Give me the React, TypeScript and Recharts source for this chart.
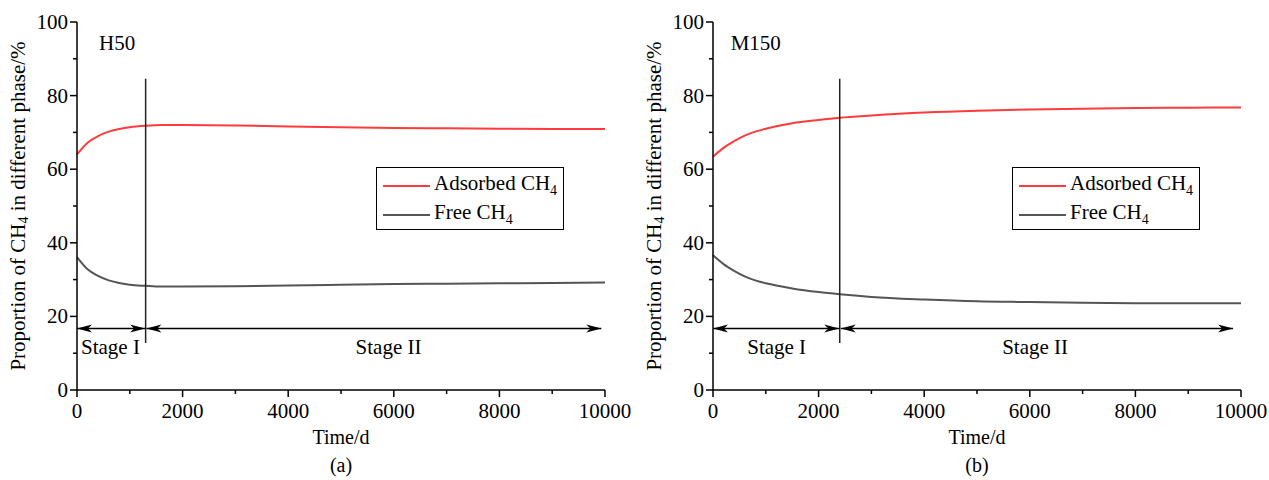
import React from "react";
import {
  LineChart,
  Line,
  XAxis,
  YAxis,
  ReferenceLine,
  ReferenceDot,
  Legend,
} from "recharts";

const FONT = "'Liberation Serif', 'Times New Roman', serif";

// time axis (days)
const timeH50 = [0, 200, 400, 600, 800, 1000, 1300, 1600, 2000, 3000, 4000, 5000, 6000, 7000, 8000, 9000, 10000];
const adsorbedH50 = [64.0, 67.2, 69.0, 70.2, 70.9, 71.4, 71.8, 72.0, 72.0, 71.9, 71.6, 71.4, 71.2, 71.1, 71.0, 70.9, 70.9];
const freeH50 = [36.1, 32.8, 31.0, 29.8, 29.1, 28.6, 28.3, 28.1, 28.1, 28.2, 28.4, 28.6, 28.8, 28.9, 29.0, 29.1, 29.2];

const timeM150 = [0, 200, 400, 600, 800, 1000, 1500, 2000, 2400, 3000, 4000, 5000, 6000, 7000, 8000, 9000, 10000];
const adsorbedM150 = [63.4, 65.8, 67.6, 69.1, 70.2, 71.0, 72.5, 73.4, 74.0, 74.6, 75.4, 75.9, 76.2, 76.4, 76.6, 76.7, 76.8];
const freeM150 = [36.6, 34.2, 32.4, 30.9, 29.8, 29.0, 27.6, 26.6, 26.0, 25.3, 24.6, 24.1, 23.9, 23.7, 23.6, 23.6, 23.6];

const xTicks = [0, 1000, 2000, 3000, 4000, 5000, 6000, 7000, 8000, 9000, 10000];
const yTicks = [0, 10, 20, 30, 40, 50, 60, 70, 80, 90, 100];

// stage boundary and arrow spans
const boundaryH50 = 1300;
const boundaryM150 = 2400;
const arrowsH50 = [[0, 1290], [1315, 9930]];
const arrowsM150 = [[0, 2390], [2420, 9850]];
const stageLabelsH50 = [{ t: 634, text: "Stage I" }, { t: 5900, text: "Stage II" }];
const stageLabelsM150 = [{ t: 1206, text: "Stage I" }, { t: 6100, text: "Stage II" }];

const XTick = (p: any) => {
  const { x, y, payload } = p;
  const major = payload.value % 2000 === 0;
  return (
    <g>
      <line x1={x} x2={x} y1={y} y2={y + (major ? 7 : 4)} stroke="#000" strokeWidth={1.5} />
      {major && (
        <text x={x} y={y + 28} textAnchor="middle" fontSize={21} fontFamily={FONT} fill="#000">
          {payload.value}
        </text>
      )}
    </g>
  );
};

const YTick = (p: any) => {
  const { x, y, payload } = p;
  const major = payload.value % 20 === 0;
  return (
    <g>
      <line x1={x - (major ? 7 : 4)} x2={x} y1={y} y2={y} stroke="#000" strokeWidth={1.5} />
      {major && (
        <text x={x - 9} y={y + 7} textAnchor="end" fontSize={21} fontFamily={FONT} fill="#000">
          {payload.value}
        </text>
      )}
    </g>
  );
};

const YLabel = (p: any) => {
  const { viewBox } = p;
  const cx = 18;
  const cy = viewBox.y + viewBox.height / 2;
  return (
    <text
      x={cx}
      y={cy}
      transform={`rotate(-90 ${cx} ${cy})`}
      textAnchor="middle"
      dominantBaseline="central"
      fontSize={21}
      fontFamily={FONT}
      fill="#000"
    >
      <tspan>Proportion of CH</tspan>
      <tspan fontSize={14} dy={5}>4</tspan>
      <tspan dy={-5}> in different phase/%</tspan>
    </text>
  );
};

const makeXLabel = (caption: string) => (p: any) => {
  const { viewBox } = p;
  const cx = viewBox.x + viewBox.width / 2;
  return (
    <g fontFamily={FONT} fontSize={20} fill="#000">
      <text x={cx} y={viewBox.y + 54} textAnchor="middle">Time/d</text>
      <text x={cx} y={viewBox.y + 82} textAnchor="middle">{caption}</text>
    </g>
  );
};

const arrowShape = (p: any) => {
  const { x1, y1, x2 } = p;
  const L = 15;
  const H = 4;
  const n = 11;
  return (
    <g>
      <line x1={x1} y1={y1} x2={x2} y2={y1} stroke="#000" strokeWidth={1.5} />
      <polygon points={`${x1},${y1} ${x1 + L},${y1 - H} ${x1 + n},${y1} ${x1 + L},${y1 + H}`} fill="#000" />
      <polygon points={`${x2},${y1} ${x2 - L},${y1 - H} ${x2 - n},${y1} ${x2 - L},${y1 + H}`} fill="#000" />
    </g>
  );
};

const textShape = (text: string, anchor: "start" | "middle") => (p: any) => (
  <text x={p.cx} y={p.cy} dy={7} textAnchor={anchor} fontSize={21} fontFamily={FONT} fill="#000">
    {text}
  </text>
);

const LegendBox = (p: any) => {
  const items = p.payload || [];
  return (
    <div
      style={{
        border: "1.5px solid #000",
        width: 188,
        height: 63,
        boxSizing: "border-box",
        background: "#fff",
        fontFamily: FONT,
        fontSize: 21,
        color: "#000",
        padding: "3px 0 0 6px",
      }}
    >
      {items.map((it: any) => (
        <div key={it.value} style={{ display: "flex", alignItems: "center", height: 29 }}>
          <span style={{ display: "inline-block", width: 47, borderTop: `2px solid ${it.color}`, marginRight: 4 }} />
          <span style={{ whiteSpace: "nowrap" }}>
            {String(it.value).slice(0, -1)}
            <sub style={{ fontSize: 14 }}>{String(it.value).slice(-1)}</sub>
          </span>
        </div>
      ))}
    </div>
  );
};

type PanelProps = {
  left: number;
  time: number[];
  adsorbed: number[];
  free: number[];
  sample: string;
  sampleT: number;
  boundary: number;
  arrows: number[][];
  stageLabels: { t: number; text: string }[];
  caption: string;
};

function Panel(props: PanelProps) {
  const data = props.time.map((t, i) => ({ t, adsorbed: props.adsorbed[i], free: props.free[i] }));
  return (
    <div style={{ position: "absolute", left: props.left, top: 0 }}>
      <LineChart width={634} height={480} data={data} margin={{ top: 22, right: 29, bottom: 0, left: 0 }}>
        <XAxis
          dataKey="t"
          type="number"
          domain={[0, 10000]}
          ticks={xTicks}
          interval={0}
          tickSize={0}
          tickMargin={0}
          tick={<XTick />}
          height={90}
          stroke="#000"
          strokeWidth={1.5}
          label={{ content: makeXLabel(props.caption) }}
        />
        <YAxis
          type="number"
          domain={[0, 100]}
          ticks={yTicks}
          interval={0}
          tickSize={0}
          tickMargin={0}
          tick={<YTick />}
          width={77}
          stroke="#000"
          strokeWidth={1.5}
          label={{ content: YLabel }}
        />
        <Legend
          layout="vertical"
          align="center"
          verticalAlign="middle"
          content={LegendBox}
          wrapperStyle={{ left: 376, top: 167 }}
        />
        <Line
          type="monotone"
          dataKey="adsorbed"
          name="Adsorbed CH4"
          stroke="#ff3b3b"
          strokeWidth={2}
          dot={false}
          isAnimationActive={false}
        />
        <Line
          type="monotone"
          dataKey="free"
          name="Free CH4"
          stroke="#555555"
          strokeWidth={2}
          dot={false}
          isAnimationActive={false}
        />
        <ReferenceLine
          segment={[
            { x: props.boundary, y: 12.8 },
            { x: props.boundary, y: 84.6 },
          ]}
          stroke="#222"
          strokeWidth={1.5}
        />
        {props.arrows.map(([a, b], i) => (
          <ReferenceLine
            key={"ar" + i}
            segment={[
              { x: a, y: 16.7 },
              { x: b, y: 16.7 },
            ]}
            shape={arrowShape}
          />
        ))}
        {props.stageLabels.map((s, i) => (
          <ReferenceDot key={"st" + i} x={s.t} y={11.6} r={0} shape={textShape(s.text, "middle")} />
        ))}
        <ReferenceDot x={props.sampleT} y={94.4} r={0} shape={textShape(props.sample, "start")} />
      </LineChart>
    </div>
  );
}

export default function App() {
  return (
    <div style={{ position: "absolute", left: 0, top: 0, width: 1269, height: 480, background: "#fff" }}>
      <Panel
        left={0}
        time={timeH50}
        adsorbed={adsorbedH50}
        free={freeH50}
        sample="H50"
        sampleT={417}
        boundary={boundaryH50}
        arrows={arrowsH50}
        stageLabels={stageLabelsH50}
        caption="(a)"
      />
      <Panel
        left={636}
        time={timeM150}
        adsorbed={adsorbedM150}
        free={freeM150}
        sample="M150"
        sampleT={334}
        boundary={boundaryM150}
        arrows={arrowsM150}
        stageLabels={stageLabelsM150}
        caption="(b)"
      />
    </div>
  );
}
